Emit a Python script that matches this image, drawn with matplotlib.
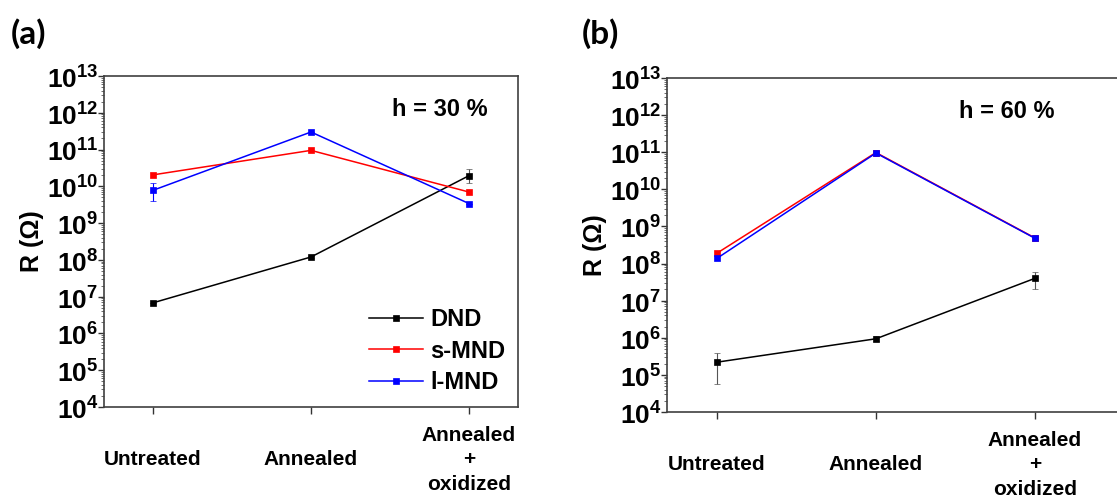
import numpy as np
import matplotlib
matplotlib.use("Agg")
import matplotlib.pyplot as plt
from matplotlib.lines import Line2D
from matplotlib.ticker import FixedLocator, LogLocator, NullFormatter

plt.rcParams['font.family'] = ['Liberation Sans', 'DejaVu Sans']
plt.rcParams['font.weight'] = 'bold'
plt.rcParams['mathtext.fontset'] = 'custom'
plt.rcParams['mathtext.rm'] = 'Liberation Sans:bold'
plt.rcParams['mathtext.bf'] = 'Liberation Sans:bold'

# =========================
# DATA
# =========================
treatments = ["Untreated", "Annealed", "Annealed\n+\noxidized"]
series_names = ["DND", "s-MND", "l-MND"]
series_colors = ["black", "red", "blue"]

# h = 30 %
dnd_30 = [6.8e6, 1.2e8, 1.95e10]
dnd_30_lo = [6.8e6, 1.15e8, 1.25e10]
dnd_30_hi = [6.8e6, 1.25e8, 2.9e10]
smnd_30 = [2.05e10, 9.5e10, 7.0e9]
lmnd_30 = [7.8e9, 3.0e11, 3.4e9]
lmnd_30_lo = [4.0e9, 3.0e11, 3.4e9]
lmnd_30_hi = [1.25e10, 3.0e11, 3.4e9]

# h = 60 %
dnd_60 = [2.2e5, 9.4e5, 4.0e7]
dnd_60_lo = [5.6e4, 8.0e5, 2.0e7]
dnd_60_hi = [3.9e5, 1.1e6, 6.0e7]
smnd_60 = [1.9e8, 9.8e10, 4.9e8]
lmnd_60 = [1.38e8, 9.5e10, 4.8e8]

panels = [
    ("(a)", "h = 30 %",
     [(dnd_30, dnd_30_lo, dnd_30_hi), (smnd_30, None, None), (lmnd_30, lmnd_30_lo, lmnd_30_hi)]),
    ("(b)", "h = 60 %",
     [(dnd_60, dnd_60_lo, dnd_60_hi), (smnd_60, None, None), (lmnd_60, None, None)]),
]

# =========================
# FIGURE
# =========================
fig = plt.figure(figsize=(11.17, 4.97), dpi=100)
ax_a = fig.add_axes([104 / 1117, 90 / 497, 414 / 1117, 331 / 497])
ax_b = fig.add_axes([667 / 1117, 85 / 497, 450 / 1117, 334 / 497])
axes = [ax_a, ax_b]
xlims = [(-0.31, 2.31), (-0.314, 2.516)]
hum_x = [0.81, 0.755]

x = np.arange(len(treatments))
majors = [10.0 ** k for k in range(4, 14)]

for i, (ax, (tag, hum, data)) in enumerate(zip(axes, panels)):
    handles = []
    for (vals, lo, hi), name, col in zip(data, series_names, series_colors):
        vals = np.array(vals)
        if lo is not None:
            yerr = [vals - np.array(lo), np.array(hi) - vals]
        else:
            yerr = None
        ax.errorbar(x, vals, yerr=yerr, color=col, lw=1.1, marker='s',
                    markersize=5, markeredgewidth=0.5,
                    ecolor='#555555' if col == 'black' else col,
                    elinewidth=0.8, capsize=2.5, capthick=0.8)
        handles.append(Line2D([], [], color=col, lw=1.1, marker='s',
                              markersize=5, markeredgewidth=0.5, label=name))

    ax.set_yscale('log')
    ax.set_ylim(1e4, 1e13)
    ax.set_xlim(*xlims[i])
    ax.yaxis.set_major_locator(FixedLocator(majors))
    ax.set_yticklabels([r'$\mathbf{10}^{\mathbf{%d}}$' % k for k in range(4, 14)])
    ax.yaxis.set_minor_locator(LogLocator(base=10, subs=np.arange(2, 10), numticks=20))
    ax.yaxis.set_minor_formatter(NullFormatter())
    ax.tick_params(axis='y', which='major', direction='out', length=4, width=1,
                   labelsize=19, pad=0, colors='#333333', labelcolor='black')
    ax.tick_params(axis='y', which='minor', direction='out', length=2, width=0.6,
                   colors='#555555')

    ax.set_xticks(x)
    ax.set_xticklabels(treatments, fontsize=15, fontweight='bold', linespacing=1.35)
    for lab in ax.get_xticklabels():
        lab.set_verticalalignment('center')
    ax.tick_params(axis='x', direction='out', length=5, width=1, pad=33,
                   colors='#333333', labelcolor='black')

    for s in ax.spines.values():
        s.set_color('#404040')
        s.set_linewidth(1.2)
    if i == 1:
        ax.spines['right'].set_visible(False)

    ax.set_ylabel("R (Ω)", fontsize=18, fontweight='bold', labelpad=2)
    ax.text(hum_x[i], 0.9, hum, transform=ax.transAxes,
            fontsize=17, fontweight='bold', ha='center', va='center')

    fig.text((11 if i == 0 else 582) / 1117, 1 - 34 / 497, tag,
             fontsize=24, fontweight='bold', family=['Lato', 'DejaVu Sans'],
             ha='left', va='center')

    if i == 0:
        ax.legend(handles=handles, loc='upper left', bbox_to_anchor=(0.64, 0.298),
                  frameon=False, fontsize=17, handlelength=2.3, handletextpad=0.3,
                  labelspacing=0.35, borderpad=0, borderaxespad=0, numpoints=1)

fig.savefig("out.png", dpi=100)
